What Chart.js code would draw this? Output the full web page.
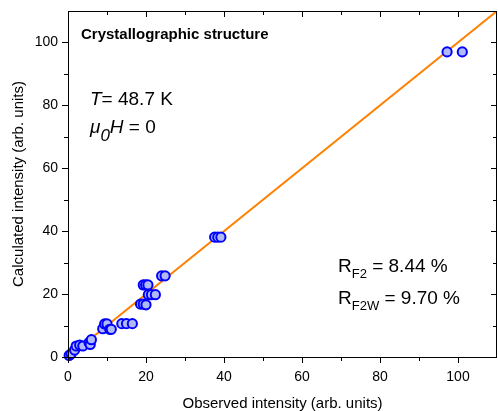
<!DOCTYPE html>
<html>
<head>
<meta charset="utf-8">
<script src="https://cdn.jsdelivr.net/npm/chart.js@4/dist/chart.umd.min.js"></script>
<style>
  html, body { margin: 0; padding: 0; background: #fff; }
  #wrap { width: 498px; height: 411px; position: relative; }
</style>
</head>
<body>
<div id="wrap"><canvas id="chart"></canvas></div>
<script>
// --- Data ---
const observed = [0.3, 0.8, 1.7, 2.1, 3.0, 3.8, 5.4, 5.7, 6.0, 8.9, 9.4, 10.0, 10.7, 11.1,
  13.8, 15.0, 16.5, 18.6, 19.3, 20.0, 19.3, 19.9, 20.5, 20.6, 21.4, 22.4, 24.0, 24.9,
  37.6, 38.4, 39.2, 97.2, 101.1];
const calculated = [0.5, 1.0, 2.2, 3.5, 3.8, 3.5, 4.6, 4.0, 5.5, 9.0, 10.5, 10.5, 8.8, 8.8,
  10.6, 10.6, 10.6, 16.8, 16.8, 16.6, 22.9, 22.9, 22.9, 19.8, 19.8, 19.8, 25.8, 25.8,
  38.1, 38.1, 38.1, 97.0, 97.0];
const fitX = [0, 110];
const fitY = [0, 110];
const xTicks = [0, 20, 40, 60, 80, 100];
const yTicks = [0, 20, 40, 60, 80, 100];
const minorTicks = [10, 30, 50, 70, 90];

const FONT = "'Liberation Sans', Arial, sans-serif";

// drop the automatic label padding so the plot area sits where we want it
const noPad = s => { s.paddingTop = 0; s.paddingBottom = 0; s.paddingLeft = 0; s.paddingRight = 0; };

// frame + inward/outward ticks on all four sides
const framePlugin = {
  id: 'frame',
  afterDraw(chart) {
    const { ctx, chartArea: a, scales } = chart;
    const sx = scales.x, sy = scales.y;
    ctx.save();
    ctx.strokeStyle = '#000';
    ctx.lineWidth = 1;
    ctx.strokeRect(a.left + 0.5, a.top + 0.5, a.right - a.left - 1, a.bottom - a.top);
    ctx.beginPath();
    const tick = (vals, len) => {
      vals.forEach(v => {
        const px = Math.round(sx.getPixelForValue(v)) + 0.5;
        ctx.moveTo(px, a.bottom); ctx.lineTo(px, a.bottom + len);   // bottom, outward
        ctx.moveTo(px, a.top); ctx.lineTo(px, a.top + len);         // top, inward
        const py = Math.round(sy.getPixelForValue(v)) + 0.5;
        ctx.moveTo(a.left, py); ctx.lineTo(a.left - len, py);       // left, outward
        ctx.moveTo(a.right, py); ctx.lineTo(a.right - len, py);     // right, inward
      });
    };
    tick(xTicks, 6);
    tick(minorTicks, 4);
    ctx.stroke();
    ctx.restore();
  }
};

// text drawn in pieces (italic, subscripts)
function drawRuns(ctx, x, y, runs) {
  runs.forEach(r => {
    ctx.font = (r.style || '') + ' ' + r.size + 'px ' + FONT;
    ctx.fillText(r.t, x, y + (r.dy || 0));
    x += ctx.measureText(r.t).width;
  });
}

const labelPlugin = {
  id: 'labels',
  afterDraw(chart) {
    const ctx = chart.ctx;
    ctx.save();
    ctx.fillStyle = '#000';
    ctx.textBaseline = 'alphabetic';
    ctx.textAlign = 'left';
    drawRuns(ctx, 81, 39, [{ t: 'Crystallographic structure', size: 15, style: 'bold' }]);
    drawRuns(ctx, 90, 105, [
      { t: 'T', size: 19, style: 'italic' },
      { t: '= 48.7 K', size: 19 }
    ]);
    drawRuns(ctx, 90, 133, [
      { t: '\u03bc', size: 19, style: 'italic' },
      { t: '0', size: 17, style: 'italic', dy: 8 },
      { t: 'H', size: 19, style: 'italic' },
      { t: ' = 0', size: 19 }
    ]);
    drawRuns(ctx, 338, 272, [
      { t: 'R', size: 19 },
      { t: 'F2', size: 13, dy: 6 },
      { t: ' = 8.44 %', size: 19 }
    ]);
    drawRuns(ctx, 338, 304, [
      { t: 'R', size: 19 },
      { t: 'F2W', size: 13, dy: 6 },
      { t: ' = 9.70 %', size: 19 }
    ]);
    ctx.restore();
  }
};

const chart = new Chart(document.getElementById('chart'), {
  type: 'scatter',
  data: {
    datasets: [
      {
        label: 'Reflections',
        data: observed.map((x, i) => ({ x, y: calculated[i] })),
        backgroundColor: 'rgb(176, 186, 245)',
        borderColor: '#0000ff',
        borderWidth: 2,
        pointRadius: 4.6,
        clip: false
      },
      {
        type: 'line',
        label: 'y = x',
        data: fitX.map((x, i) => ({ x, y: fitY[i] })),
        borderColor: '#ff8000',
        borderWidth: 2,
        pointRadius: 0,
        fill: false
      }
    ]
  },
  options: {
    responsive: true,
    maintainAspectRatio: false,
    animation: false,
    layout: { autoPadding: false, padding: { top: 11, right: 1, left: 0, bottom: 0 } },
    plugins: {
      legend: { display: false },
      tooltip: { enabled: false }
    },
    scales: {
      x: {
        type: 'linear',
        min: 0, max: 110,
        afterBuildTicks: s => { s.ticks = xTicks.map(v => ({ value: v })); },
        afterFit: s => { s.height = 54; noPad(s); },
        grid: { display: false },
        border: { display: false },
        ticks: { color: '#000', padding: 4, font: { family: FONT, size: 14 } },
        title: {
          display: true,
          text: 'Observed intensity (arb. units)',
          color: '#000',
          font: { family: FONT, size: 15 },
          padding: { top: 2, bottom: -2 }
        }
      },
      y: {
        type: 'linear',
        min: 0, max: 110,
        afterBuildTicks: s => { s.ticks = yTicks.map(v => ({ value: v })); },
        afterFit: s => { s.width = 68; noPad(s); },
        grid: { display: false },
        border: { display: false },
        ticks: { color: '#000', padding: 2, font: { family: FONT, size: 14 } },
        title: {
          display: true,
          text: 'Calculated intensity (arb. units)',
          color: '#000',
          font: { family: FONT, size: 15 },
          padding: { top: 10, bottom: 0 }
        }
      }
    }
  },
  plugins: [framePlugin, labelPlugin]
});
</script>
</body>
</html>
